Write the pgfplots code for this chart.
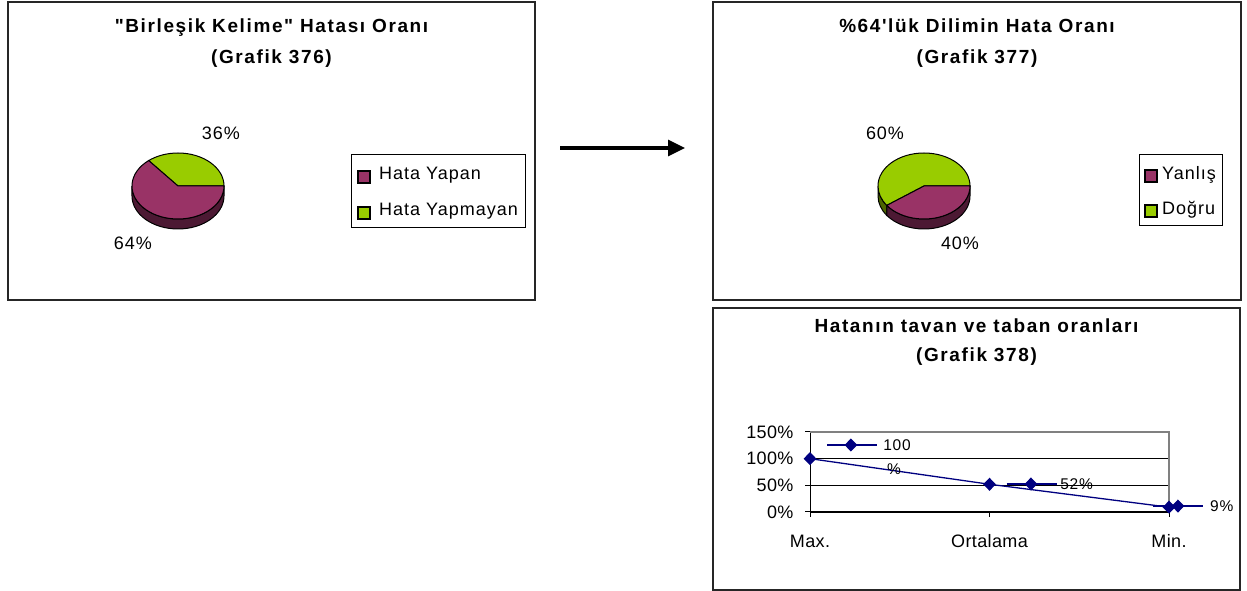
\documentclass[border=0pt]{standalone}
\usepackage{fontspec}
\setmainfont{Liberation Sans}
\usepackage{pgfplots}
\pgfplotsset{compat=1.18}
\usetikzlibrary{arrows.meta}
\newfontfamily\ttlfont[LetterSpace=8.5]{Liberation Sans}
\newfontfamily\lgdfont[LetterSpace=5.5]{Liberation Sans}
\newfontfamily\tckfont[LetterSpace=2]{Liberation Sans}
\newcommand\ttl{\ttlfont\bfseries\fontsize{19}{22}\selectfont}
\newcommand\lgd{\lgdfont\fontsize{18}{21}\selectfont}
\newcommand\tck{\tckfont\fontsize{18}{21}\selectfont}
\newcommand\dlb{\lgdfont\fontsize{15.5}{18}\selectfont}
\definecolor{cpurple}{HTML}{993366}
\definecolor{cgreen}{HTML}{99CC00}
\definecolor{cpurpled}{HTML}{4C1933}
\definecolor{cgreend}{HTML}{4C6600}
\definecolor{navy}{HTML}{000080}
% pie data (percent)
\def\pYapan{64}\def\pYapmayan{36}
\def\qYanlis{40}\def\qDogru{60}
\begin{document}
\begin{tikzpicture}[x=1pt,y=1pt]
\path[use as bounding box] (0,0) rectangle (1247,591);
\coordinate (pieA) at (178,405);
\coordinate (pieB) at (924,405);
\coordinate (lineSW) at (810,79);
% frames
\draw[black!85, line width=1.3pt] (8,291) rectangle (535,589);
\draw[black!85, line width=1.3pt] (713,291) rectangle (1241,589);
\draw[black!85, line width=1.3pt] (713,1) rectangle (1240,283);
% titles
\node[anchor=base, font=\ttl] at (271.5,558) {"Birleşik Kelime" Hatası Oranı};
\node[anchor=base, font=\ttl] at (271.5,527) {(Grafik 376)};
\node[anchor=base, font=\ttl] at (977,558) {\%64'lük Dilimin Hata Oranı};
\node[anchor=base, font=\ttl] at (977,527) {(Grafik 377)};
\node[anchor=base, font=\ttl] at (976.5,258) {Hatanın tavan ve taban oranları};
\node[anchor=base, font=\ttl] at (976.5,229) {(Grafik 378)};
% arrow
\draw[line width=3.3pt, -{Triangle[length=17pt,width=16pt]}] (560,443) -- (685,443);
\pgfmathsetmacro\angA{3.6*\pYapmayan}
\pgfmathsetmacro\angB{3.6*\qDogru}
% pie 1
\begin{axis}[hide axis, scale only axis, x=1pt, y=1pt, xmin=-60, xmax=60, ymin=-50, ymax=50,
  at={(pieA)}, anchor=center, clip=false]
\filldraw[fill=cpurpled, draw=black, line width=1pt] (axis cs:-46,0) arc[start angle=180, end angle=360, x radius=46pt, y radius=33pt] -- ++(0pt,-10pt) arc[start angle=360, end angle=180, x radius=46pt, y radius=33pt] -- cycle;
\filldraw[fill=cgreen, draw=black, line width=1pt] (axis cs:0,0) -- (axis cs:46,0) arc[start angle=0, end angle=\angA, x radius=46pt, y radius=33pt] -- cycle;
\filldraw[fill=cpurple, draw=black, line width=1pt] (axis cs:0,0) -- ++(\angA:46pt and 33pt) arc[start angle=\angA, end angle=360, x radius=46pt, y radius=33pt] -- cycle;
\end{axis}
\node[font=\lgd] at (221,458) {36\%};
\node[font=\lgd] at (133,348) {64\%};
% legend 1
\draw[black, line width=1pt] (351,436) rectangle (525,363);
\filldraw[fill=cpurple, draw=black, line width=1.3pt] (358,408) rectangle (370,420);
\filldraw[fill=cgreen, draw=black, line width=1.3pt] (358,372) rectangle (370,384);
\node[anchor=base west, font=\lgd, inner sep=0pt] at (379,411) {Hata Yapan};
\node[anchor=base west, font=\lgd, inner sep=0pt] at (379,375) {Hata Yapmayan};
% pie 2
\begin{axis}[hide axis, scale only axis, x=1pt, y=1pt, xmin=-60, xmax=60, ymin=-50, ymax=50,
  at={(pieB)}, anchor=center, clip=false]
\filldraw[fill=cgreend, draw=black, line width=1pt] (axis cs:-46,0) arc[start angle=180, end angle=\angB, x radius=46pt, y radius=33pt] -- ++(0pt,-10pt) arc[start angle=\angB, end angle=180, x radius=46pt, y radius=33pt] -- cycle;
\filldraw[fill=cpurpled, draw=black, line width=1pt] (axis cs:0,0) ++(\angB:46pt and 33pt) arc[start angle=\angB, end angle=360, x radius=46pt, y radius=33pt] -- ++(0pt,-10pt) arc[start angle=360, end angle=\angB, x radius=46pt, y radius=33pt] -- cycle;
\filldraw[fill=cgreen, draw=black, line width=1pt] (axis cs:0,0) -- (axis cs:46,0) arc[start angle=0, end angle=\angB, x radius=46pt, y radius=33pt] -- cycle;
\filldraw[fill=cpurple, draw=black, line width=1pt] (axis cs:0,0) -- ++(\angB:46pt and 33pt) arc[start angle=\angB, end angle=360, x radius=46pt, y radius=33pt] -- cycle;
\end{axis}
\node[font=\lgd] at (885,458) {60\%};
\node[font=\lgd] at (960,348) {40\%};
% legend 2
\draw[black, line width=1pt] (1139,436) rectangle (1222,365);
\filldraw[fill=cpurple, draw=black, line width=1.3pt] (1145,409) rectangle (1157,421);
\filldraw[fill=cgreen, draw=black, line width=1.3pt] (1145,374) rectangle (1157,386);
\node[anchor=base west, font=\lgd, inner sep=0pt] at (1162,411) {Yanlış};
\node[anchor=base west, font=\lgd, inner sep=0pt] at (1162,376) {Doğru};
% line chart
\begin{axis}[at={(lineSW)}, anchor=south west, scale only axis, width=359pt, height=80pt,
  xmin=0, xmax=2, ymin=0, ymax=150, clip=false,
  xtick={0,1,2}, xticklabels={Max.,Ortalama,Min.},
  ytick={0,50,100,150}, yticklabels={0\%,50\%,100\%,150\%},
  axis x line*=bottom, axis y line*=left,
  axis line style={black, line width=1pt, -},
  ymajorgrids, grid style={black, line width=0.8pt},
  tick style={black, line width=1pt}, tick align=outside, major tick length=5pt,
  ticklabel style={font=\tck},
  xticklabel style={anchor=base, yshift=-31pt},
  yticklabel style={anchor=east, xshift=-8pt}]
\draw[black!50, line width=1.2pt] (axis cs:0,150) -- (axis cs:2,150) -- (axis cs:2,0);
\addplot[navy, line width=1.3pt, mark=diamond*, mark size=5.6pt, mark options={xscale=1.3, solid}] coordinates {(0,100) (1,52) (2,9)};
% data label keys
\addplot[navy, line width=1.3pt, mark=diamond*, mark size=5.6pt, mark indices={2}, mark options={xscale=1.3}] coordinates {(0.095,125.6) (0.228,125.6) (0.373,125.6)};
\addplot[navy, line width=1.3pt, mark=diamond*, mark size=5.6pt, mark indices={2}, mark options={xscale=1.3}] coordinates {(1.096,52.5) (1.231,52.5) (1.374,52.5)};
\addplot[navy, line width=1.3pt, mark=diamond*, mark size=5.6pt, mark indices={2}, mark options={xscale=1.3}] coordinates {(1.911,11.2) (2.050,11.2) (2.189,11.2)};
\node[anchor=west, font=\dlb, inner sep=0pt] at (axis cs:0.407,125.6) {100};
\node[font=\dlb, inner sep=0pt] at (axis cs:0.468,80.6) {\%};
\node[anchor=west, font=\dlb, inner sep=0pt] at (axis cs:1.393,52.5) {52\%};
\node[anchor=west, font=\dlb, inner sep=0pt] at (axis cs:2.228,11.2) {9\%};
\end{axis}
\end{tikzpicture}
\end{document}
